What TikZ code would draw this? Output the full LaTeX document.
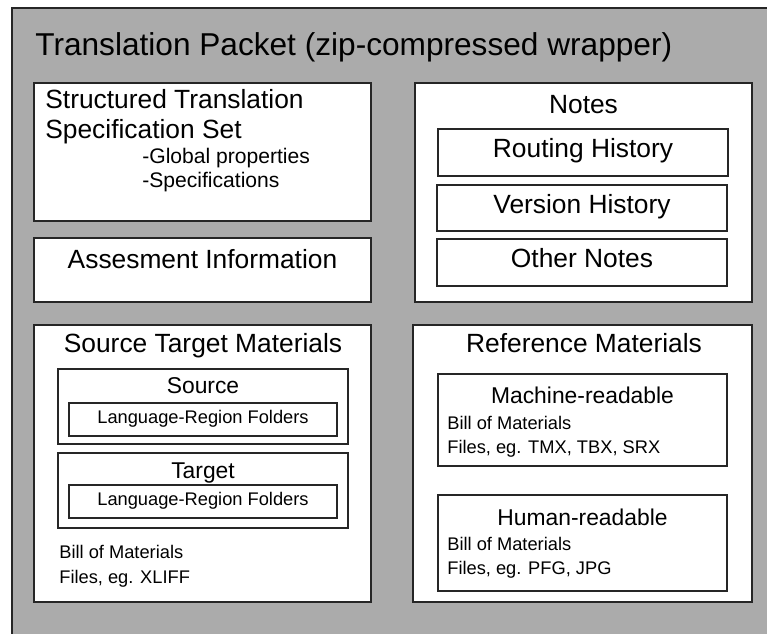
\documentclass[tikz,border=0pt]{standalone}
\usepackage{fontspec}
\setmainfont{Liberation Sans}
\usetikzlibrary{fit}
\begin{document}
\begin{tikzpicture}[x=0.02cm, y=-0.02cm,
    packet/.style={fill=black!33, draw=black!85, line width=1pt},
    box/.style={draw=black!85, line width=1.3pt, fill=white, inner sep=0pt},
    title/.style={font=\fontsize{18}{21}\selectfont, anchor=base west, inner sep=0pt},
    head/.style={font=\fontsize{15}{18}\selectfont, anchor=base, inner sep=0pt},
    headl/.style={head, anchor=base west},
    subhead/.style={font=\fontsize{13}{15}\selectfont, anchor=base, inner sep=0pt},
    item/.style={font=\fontsize{12}{14}\selectfont, anchor=base west, inner sep=0pt},
    small/.style={font=\fontsize{10.4}{12}\selectfont, anchor=base west, inner sep=0pt},
    smallc/.style={small, anchor=base}
  ]
  \useasboundingbox (0,0) rectangle (767,633);
  \fill[white] (0,0) rectangle (767,633);
  \draw[packet] (12,8) rectangle (790,660);
  \node[title] (ttl) at (35,55) {Translation Packet (zip-compressed wrapper)};

  % left column
  \node[box, fit={(34,83) (371,221)}] (spec) {};
  \node[headl] (spec1) at (45,108) {Structured Translation};
  \node[headl] (spec2) at (45,138) {Specification Set};
  \node[item] (glob) at (142,163) {-Global properties};
  \node[item] (specs) at (142,187) {-Specifications};

  \node[box, fit={(34,238) (371,302)}] (assess) {};
  \node[head] (assesst) at (202.5,268) {Assesment Information};

  \node[box, fit={(34,325) (371,602)}] (stm) {};
  \node[head] (stmt) at (203,352) {Source Target Materials};
  \node[box, fit={(58,369) (348,444)}] (src) {};
  \node[subhead] (srct) at (203,393) {Source};
  \node[box, fit={(69,403) (337,436)}] (srcf) {};
  \node[smallc] (srcft) at (203,423) {Language-Region Folders};
  \node[box, fit={(58,453) (348,528)}] (tgt) {};
  \node[subhead] (tgtt) at (203,478) {Target};
  \node[box, fit={(69,485) (337,518)}] (tgtf) {};
  \node[smallc] (tgtft) at (203,505) {Language-Region Folders};
  \node[small] (stmb) at (59,558) {Bill of Materials};
  \node[small] (stmf) at (59,583) {Files, eg. XLIFF};

  % right column
  \node[box, fit={(415,83) (752,302)}] (notes) {};
  \node[head] (notest) at (583.5,113) {Notes};
  \node[box, fit={(438,129) (728,176)}] (route) {};
  \node[head] (routet) at (583,157) {Routing History};
  \node[box, fit={(437,185) (727,231)}] (vers) {};
  \node[head] (verst) at (582,213) {Version History};
  \node[box, fit={(437,239) (727,286)}] (other) {};
  \node[head] (othert) at (582,267) {Other Notes};

  \node[box, fit={(413,325) (752,602)}] (refm) {};
  \node[head] (refmt) at (584,352) {Reference Materials};
  \node[box, fit={(438,374) (727,466)}] (mach) {};
  \node[subhead] (macht) at (582.5,403) {Machine-readable};
  \node[small] (machb) at (447,429) {Bill of Materials};
  \node[small] (machf) at (447,453) {Files, eg. TMX, TBX, SRX};
  \node[box, fit={(438,495) (727,591)}] (hum) {};
  \node[subhead] (humt) at (582.5,525) {Human-readable};
  \node[small] (humb) at (447,550) {Bill of Materials};
  \node[small] (humf) at (447,574) {Files, eg. PFG, JPG};
\end{tikzpicture}
\end{document}
